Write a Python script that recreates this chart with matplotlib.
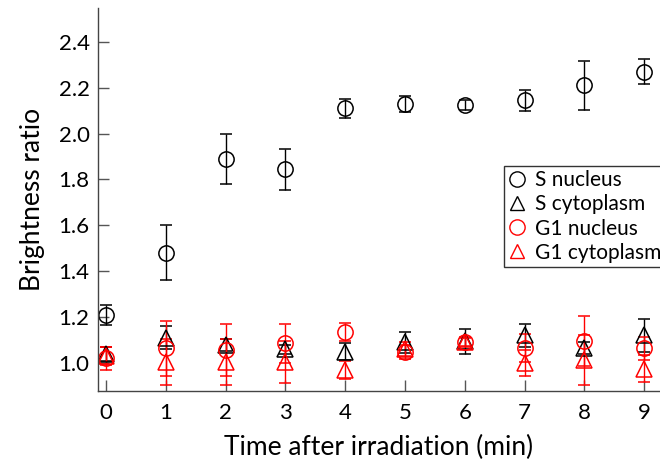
import numpy as np
import matplotlib
matplotlib.use('Agg')
import matplotlib.pyplot as plt
from matplotlib.lines import Line2D

plt.rcParams['font.family'] = ['Lato', 'DejaVu Sans']

# time points (min)
time = [0, 1, 2, 3, 4, 5, 6, 7, 8, 9]

# brightness ratio and error bars for each series
s_nuc = [1.21, 1.48, 1.89, 1.845, 2.11, 2.13, 2.125, 2.145, 2.21, 2.27]
s_nuc_err = [0.045, 0.12, 0.11, 0.09, 0.04, 0.035, 0.02, 0.045, 0.105, 0.055]

s_cyto = [1.04, 1.11, 1.08, 1.06, 1.05, 1.09, 1.095, 1.12, 1.065, 1.12]
s_cyto_err = [0.03, 0.05, 0.026, 0.02, 0.035, 0.045, 0.055, 0.05, 0.025, 0.07]

g1_nuc = [1.02, 1.065, 1.057, 1.085, 1.135, 1.048, 1.092, 1.065, 1.096, 1.065]
g1_nuc_err = [0.05, 0.12, 0.113, 0.083, 0.04, 0.03, 0.02, 0.06, 0.11, 0.05]

g1_cyto = [1.03, 1.004, 1.004, 1.004, 0.97, 1.06, 1.09, 1.0, 1.013, 0.975]
g1_cyto_err = [0.04, 0.10, 0.10, 0.09, 0.04, 0.03, 0.02, 0.057, 0.11, 0.06]

labels = ['S nucleus', 'S cytoplasm', 'G1 nucleus', 'G1 cytoplasm']

fig = plt.figure(figsize=(6.6, 4.66), dpi=100)
ax = fig.add_axes([0.1485, 0.161, 0.8515, 0.822])

series = [
    (s_nuc, s_nuc_err, 'o', 'black'),
    (s_cyto, s_cyto_err, '^', 'black'),
    (g1_nuc, g1_nuc_err, 'o', 'red'),
    (g1_cyto, g1_cyto_err, '^', 'red'),
]
for vals, err, mk, col in series:
    ax.errorbar(time, vals, yerr=err, fmt=mk, mfc='none', mec=col, ecolor=col,
                ms=11 if mk == 'o' else 12, mew=1.1, elinewidth=1.0,
                capsize=4, capthick=1.0)

ax.set_xlim(-0.134, 9.264)
ax.set_ylim(0.878, 2.548)
ax.set_xticks(time)
ax.set_yticks([1.0, 1.2, 1.4, 1.6, 1.8, 2.0, 2.2, 2.4])
ax.set_yticklabels(['%.1f' % v for v in ax.get_yticks()])

for s in ['top', 'right']:
    ax.spines[s].set_visible(False)
for s in ['left', 'bottom']:
    ax.spines[s].set_color('#444444')
    ax.spines[s].set_linewidth(1.0)

ax.tick_params(axis='both', direction='in', length=8, width=1.0,
               color='#555555', labelsize=16, pad=6)
ax.tick_params(axis='x', pad=9)

ax.set_xlabel('Time after irradiation (min)', fontsize=19, labelpad=8)
ax.set_ylabel('Brightness ratio', fontsize=19, labelpad=10)

handles = [
    Line2D([], [], ls='none', marker='o', mfc='none', mec='black', ms=11, mew=1),
    Line2D([], [], ls='none', marker='^', mfc='none', mec='black', ms=10, mew=1),
    Line2D([], [], ls='none', marker='o', mfc='none', mec='red', ms=11, mew=1),
    Line2D([], [], ls='none', marker='^', mfc='none', mec='red', ms=10, mew=1),
]
leg = ax.legend(handles, labels, loc='upper left', bbox_to_anchor=(0.722, 0.587),
                fontsize=15, frameon=True, fancybox=False, handlelength=0.9,
                handletextpad=0.4, borderpad=0.2, labelspacing=0.2,
                borderaxespad=0)
leg.get_frame().set_edgecolor('black')
leg.get_frame().set_linewidth(1.0)

fig.savefig('out.png', dpi=100)
